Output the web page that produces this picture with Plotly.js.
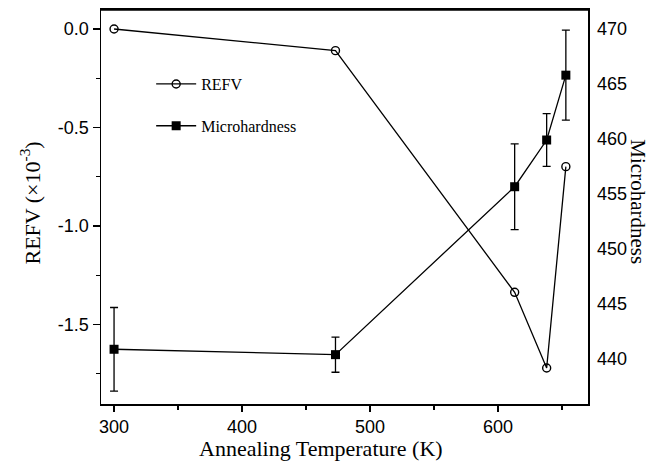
<!DOCTYPE html>
<html>
<head>
<meta charset="utf-8">
<script src="https://cdn.plot.ly/plotly-3.0.1.min.js"></script>
<style>html,body{margin:0;padding:0;background:#fff;}#chart{width:660px;height:464px;}</style>
</head>
<body>
<div id="chart"></div>
<script>
// Data
const temperature = [300, 473, 613, 638, 653];
const refv = [0.0, -0.11, -1.337, -1.721, -0.699];
const microhardness = [440.86, 440.37, 455.65, 459.9, 465.8];
const microError = [3.8, 1.6, 3.9, 2.4, 4.1];
const yTickVals = [0, -0.5, -1.0, -1.5];
const yTickText = ['0.0', '-0.5', '-1.0', '-1.5'];
const y2TickVals = [440, 445, 450, 455, 460, 465, 470];
const xTickVals = [300, 400, 500, 600];

const serif = 'Liberation Serif, Times New Roman, serif';
const sans = 'Liberation Sans, Arial, sans-serif';

const traces = [
  {
    x: temperature, y: refv, name: 'REFV', type: 'scatter', mode: 'lines+markers',
    legendgroup: 'a',
    line: {color: '#000', width: 1.3},
    marker: {symbol: 'circle-open', size: 8, color: '#000', line: {width: 1.4, color: '#000'}},
    xaxis: 'x', yaxis: 'y'
  },
  {
    x: temperature, y: microhardness, name: 'Microhardness', type: 'scatter', mode: 'lines+markers',
    legendgroup: 'b',
    line: {color: '#000', width: 1.3},
    marker: {symbol: 'square', size: 9, color: '#000'},
    error_y: {type: 'data', array: microError, visible: true, color: '#000', thickness: 1.3, width: 4},
    xaxis: 'x', yaxis: 'y2'
  }
];

const layout = {
  width: 660, height: 464,
  margin: {l: 101, r: 72, t: 9, b: 60},
  paper_bgcolor: '#fff', plot_bgcolor: '#fff',
  showlegend: true,
  legend: {
    x: 0.103, y: 0.853, xanchor: 'left', yanchor: 'top',
    bgcolor: 'rgba(0,0,0,0)', font: {family: serif, size: 16, color: '#000'},
    traceorder: 'grouped', tracegroupgap: 18, itemwidth: 40
  },
  xaxis: {
    range: [289.8, 670.3], tickmode: 'array', tickvals: xTickVals,
    showgrid: false, zeroline: false, showline: true, linecolor: '#000', linewidth: 1.5,
    mirror: true,
    ticks: 'outside', ticklen: 6, tickwidth: 1.3, tickcolor: '#000',
    minor: {tickmode: 'linear', tick0: 350, dtick: 100, ticks: 'outside', ticklen: 4, tickwidth: 1.2, tickcolor: '#000', showgrid: false},
    tickfont: {family: sans, size: 18, color: '#000'}
  },
  yaxis: {
    range: [-1.904, 0.1015], tickmode: 'array', tickvals: yTickVals, ticktext: yTickText,
    showgrid: false, zeroline: false, showline: true, linecolor: '#000', linewidth: 1.5,
    ticks: 'outside', ticklen: 7, tickwidth: 1.3, tickcolor: '#000',
    minor: {tickmode: 'linear', tick0: -0.25, dtick: 0.5, ticks: 'outside', ticklen: 4, tickwidth: 1.2, tickcolor: '#000', showgrid: false},
    tickfont: {family: sans, size: 18, color: '#000'}
  },
  yaxis2: {
    range: [435.88, 471.82], overlaying: 'y', side: 'right', anchor: 'x',
    tickmode: 'array', tickvals: y2TickVals,
    showgrid: false, zeroline: false, showline: true, linecolor: '#000', linewidth: 1.5,
    ticks: '', ticklabelstandoff: 4,
    tickfont: {family: sans, size: 18, color: '#000'}
  },
  shapes: [
    {type: 'line', xref: 'paper', yref: 'paper', x0: 0, x1: 1, y0: 0.998, y1: 0.998, layer: 'above',
     line: {color: '#000', width: 1.8}}
  ],
  annotations: [
    {text: 'Annealing Temperature (K)', xref: 'paper', yref: 'paper', x: 0.452, y: -0.1139,
     xanchor: 'center', yanchor: 'middle', showarrow: false,
     font: {family: serif, size: 22, color: '#000'}},
    {text: 'REFV (×10<sup>-3</sup>)', xref: 'paper', yref: 'paper', x: -0.1458, y: 0.51,
     xanchor: 'center', yanchor: 'middle', textangle: -90, showarrow: false,
     font: {family: serif, size: 22, color: '#000'}},
    {text: 'Microhardness', xref: 'paper', yref: 'paper', x: 1.1027, y: 0.513,
     xanchor: 'center', yanchor: 'middle', textangle: 90, showarrow: false,
     font: {family: serif, size: 21, color: '#000'}}
  ]
};

Plotly.newPlot('chart', traces, layout, {displayModeBar: false, staticPlot: true});
</script>
</body>
</html>
